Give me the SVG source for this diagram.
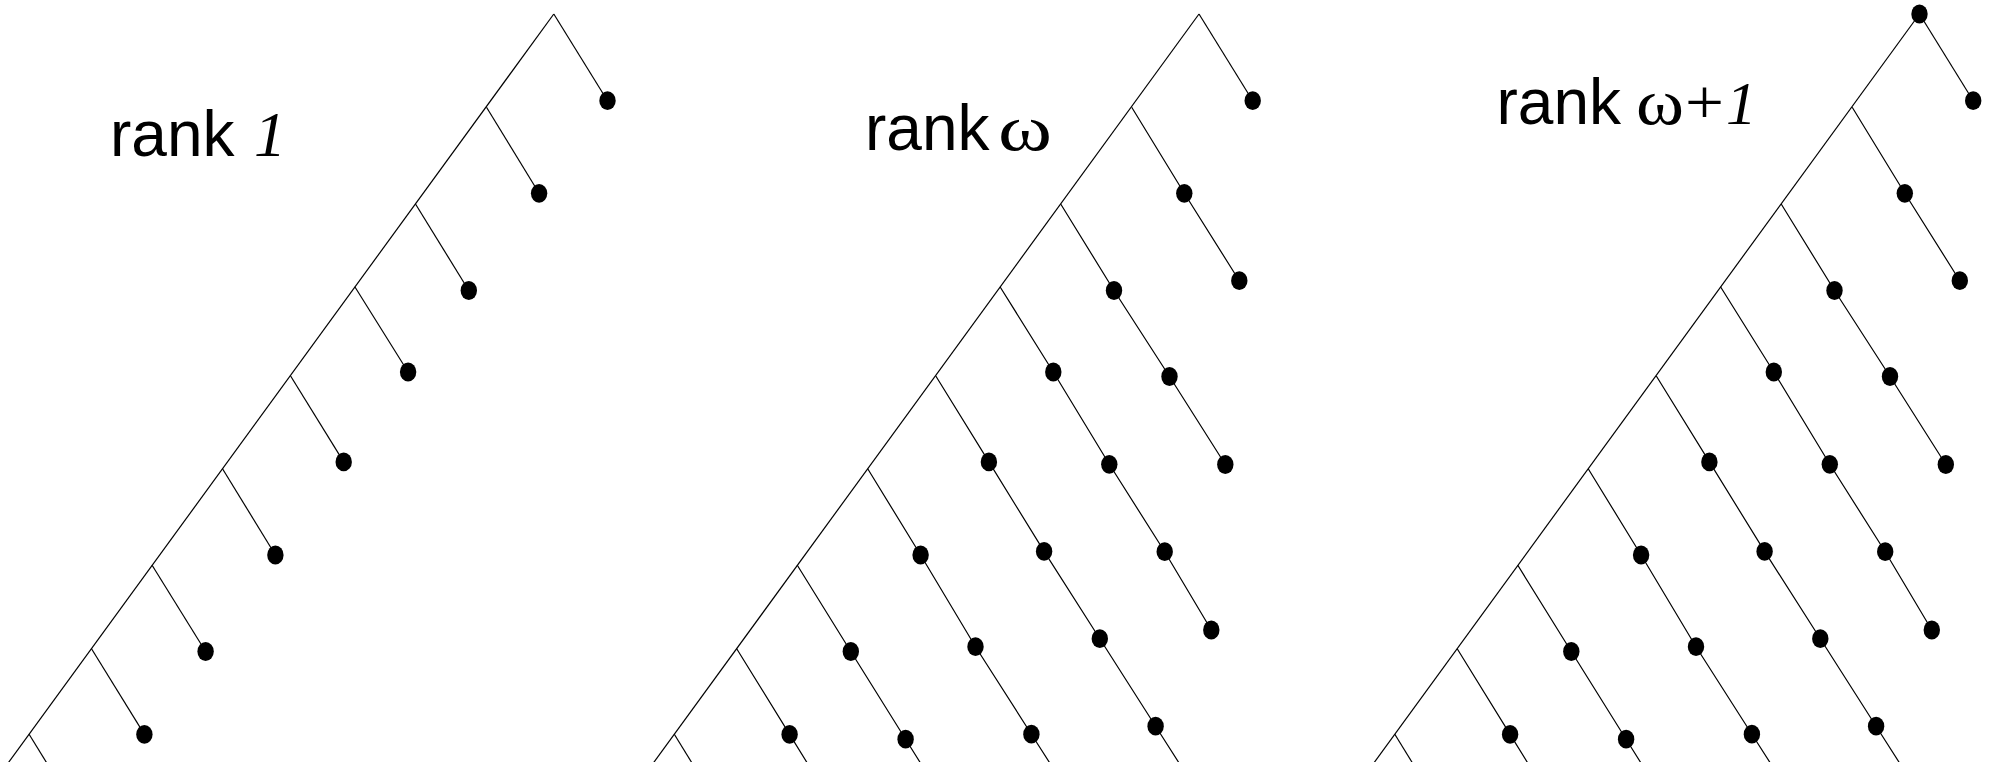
<svg xmlns="http://www.w3.org/2000/svg" width="1991" height="762" viewBox="0 0 1991 762">
<style>
.bg{fill:#ffffff}
.ln{fill:none;stroke:#000;stroke-width:1.2;stroke-linejoin:round}
.dot{fill:#000}
.lbl{font-family:"Liberation Sans",Arial,sans-serif;font-size:64px;fill:#000}
.m{font-family:"Liberation Serif","Times New Roman",serif}
.it{font-style:italic}
</style>
<rect class="bg" x="0" y="0" width="1991" height="762"/>
<g id="labels">
<text id="label-rank1" class="lbl" x="110" y="156">rank<tspan class="m it" x="254">1</tspan></text>
<text id="label-rankw" class="lbl" x="865" y="149.5">rank<tspan class="m" x="998" font-size="66" textLength="54" lengthAdjust="spacingAndGlyphs">ω</tspan></text>
<text id="label-rankw1" class="lbl" x="1496.5" y="124">rank<tspan class="m" x="1636" font-size="65" textLength="48" lengthAdjust="spacingAndGlyphs">ω</tspan><tspan class="m" x="1685" font-size="63" textLength="39" lengthAdjust="spacingAndGlyphs">+</tspan><tspan class="m it" x="1726" font-size="61">1</tspan></text>
</g>
<g id="connectors">
<g id="p1-edges">
<path class="ln" d="M553.8,14 L-18.8,800"/>
<path class="ln" d="M553.8,14 L607.5,100.7"/>
<path class="ln" d="M486.5,107.3 L539.1,193.3"/>
<path class="ln" d="M415.5,204 L468.8,290.5"/>
<path class="ln" d="M354.8,286.7 L408.1,372"/>
<path class="ln" d="M290.6,376 L343.7,461.9"/>
<path class="ln" d="M222.5,468.7 L275.4,555"/>
<path class="ln" d="M152.1,565.3 L205.6,651.5"/>
<path class="ln" d="M91.5,648.7 L144.4,734.4"/>
<path class="ln" d="M29.1,734.3 L82.1,820.3"/>
</g>
<g id="p2-edges">
<path class="ln" d="M1199,14 L626.4,800"/>
<path class="ln" d="M1199,14 L1252.7,100.7"/>
<path class="ln" d="M1131.7,107.3 L1184.3,193.3 L1239.3,280.7"/>
<path class="ln" d="M1060.7,204 L1114,290.5 L1169.5,376.5 L1225.3,464.5"/>
<path class="ln" d="M1000,286.7 L1053.3,372 L1109.3,464.3 L1164.7,551.7 L1211.3,630"/>
<path class="ln" d="M935.8,376 L988.9,461.9 L1044.1,551.4 L1099.8,638.7 L1155.6,726.2 L1211.4,813.7"/>
<path class="ln" d="M867.7,468.7 L920.6,555 L975.5,646.7 L1031.4,734.2 L1087.3,821.7"/>
<path class="ln" d="M797.3,565.3 L850.8,651.5 L905.6,739.2 L960.4,826.9"/>
<path class="ln" d="M736.7,648.7 L789.6,734.4 L842.5,820.1"/>
<path class="ln" d="M674.3,734.3 L727.3,820.3"/>
</g>
<g id="p3-edges">
<path class="ln" d="M1919.5,14 L1346.9,800"/>
<path class="ln" d="M1919.5,14 L1973.2,100.7"/>
<path class="ln" d="M1852.2,107.3 L1904.8,193.3 L1959.8,280.7"/>
<path class="ln" d="M1781.2,204 L1834.5,290.5 L1890,376.5 L1945.8,464.5"/>
<path class="ln" d="M1720.5,286.7 L1773.8,372 L1829.8,464.3 L1885.2,551.7 L1931.8,630"/>
<path class="ln" d="M1656.3,376 L1709.4,461.9 L1764.6,551.4 L1820.3,638.7 L1876.1,726.2 L1931.9,813.7"/>
<path class="ln" d="M1588.2,468.7 L1641.1,555 L1696,646.7 L1751.9,734.2 L1807.8,821.7"/>
<path class="ln" d="M1517.8,565.3 L1571.3,651.5 L1626.1,739.2 L1680.9,826.9"/>
<path class="ln" d="M1457.2,648.7 L1510.1,734.4 L1563,820.1"/>
<path class="ln" d="M1394.8,734.3 L1447.8,820.3"/>
</g>
</g>
<g id="nodes">
<g id="p1-n0"><ellipse class="dot" cx="607.5" cy="100.7" rx="8.2" ry="9.4"/></g>
<g id="p1-n1"><ellipse class="dot" cx="539.1" cy="193.3" rx="8.2" ry="9.4"/></g>
<g id="p1-n2"><ellipse class="dot" cx="468.8" cy="290.5" rx="8.2" ry="9.4"/></g>
<g id="p1-n3"><ellipse class="dot" cx="408.1" cy="372" rx="8.2" ry="9.4"/></g>
<g id="p1-n4"><ellipse class="dot" cx="343.7" cy="461.9" rx="8.2" ry="9.4"/></g>
<g id="p1-n5"><ellipse class="dot" cx="275.4" cy="555" rx="8.2" ry="9.4"/></g>
<g id="p1-n6"><ellipse class="dot" cx="205.6" cy="651.5" rx="8.2" ry="9.4"/></g>
<g id="p1-n7"><ellipse class="dot" cx="144.4" cy="734.4" rx="8.2" ry="9.4"/></g>

<g id="p2-n0-1"><ellipse class="dot" cx="1252.7" cy="100.7" rx="8.2" ry="9.4"/></g>
<g id="p2-n1-1"><ellipse class="dot" cx="1184.3" cy="193.3" rx="8.2" ry="9.4"/></g>
<g id="p2-n1-2"><ellipse class="dot" cx="1239.3" cy="280.7" rx="8.2" ry="9.4"/></g>
<g id="p2-n2-1"><ellipse class="dot" cx="1114" cy="290.5" rx="8.2" ry="9.4"/></g>
<g id="p2-n2-2"><ellipse class="dot" cx="1169.5" cy="376.5" rx="8.2" ry="9.4"/></g>
<g id="p2-n2-3"><ellipse class="dot" cx="1225.3" cy="464.5" rx="8.2" ry="9.4"/></g>
<g id="p2-n3-1"><ellipse class="dot" cx="1053.3" cy="372" rx="8.2" ry="9.4"/></g>
<g id="p2-n3-2"><ellipse class="dot" cx="1109.3" cy="464.3" rx="8.2" ry="9.4"/></g>
<g id="p2-n3-3"><ellipse class="dot" cx="1164.7" cy="551.7" rx="8.2" ry="9.4"/></g>
<g id="p2-n3-4"><ellipse class="dot" cx="1211.3" cy="630" rx="8.2" ry="9.4"/></g>
<g id="p2-n4-1"><ellipse class="dot" cx="988.9" cy="461.9" rx="8.2" ry="9.4"/></g>
<g id="p2-n4-2"><ellipse class="dot" cx="1044.1" cy="551.4" rx="8.2" ry="9.4"/></g>
<g id="p2-n4-3"><ellipse class="dot" cx="1099.8" cy="638.7" rx="8.2" ry="9.4"/></g>
<g id="p2-n4-4"><ellipse class="dot" cx="1155.6" cy="726.2" rx="8.2" ry="9.4"/></g>
<g id="p2-n5-1"><ellipse class="dot" cx="920.6" cy="555" rx="8.2" ry="9.4"/></g>
<g id="p2-n5-2"><ellipse class="dot" cx="975.5" cy="646.7" rx="8.2" ry="9.4"/></g>
<g id="p2-n5-3"><ellipse class="dot" cx="1031.4" cy="734.2" rx="8.2" ry="9.4"/></g>
<g id="p2-n6-1"><ellipse class="dot" cx="850.8" cy="651.5" rx="8.2" ry="9.4"/></g>
<g id="p2-n6-2"><ellipse class="dot" cx="905.6" cy="739.2" rx="8.2" ry="9.4"/></g>
<g id="p2-n7-1"><ellipse class="dot" cx="789.6" cy="734.4" rx="8.2" ry="9.4"/></g>

<g id="p3-root"><ellipse class="dot" cx="1919.5" cy="14" rx="8.2" ry="9.4"/></g>
<g id="p3-n0-1"><ellipse class="dot" cx="1973.2" cy="100.7" rx="8.2" ry="9.4"/></g>
<g id="p3-n1-1"><ellipse class="dot" cx="1904.8" cy="193.3" rx="8.2" ry="9.4"/></g>
<g id="p3-n1-2"><ellipse class="dot" cx="1959.8" cy="280.7" rx="8.2" ry="9.4"/></g>
<g id="p3-n2-1"><ellipse class="dot" cx="1834.5" cy="290.5" rx="8.2" ry="9.4"/></g>
<g id="p3-n2-2"><ellipse class="dot" cx="1890" cy="376.5" rx="8.2" ry="9.4"/></g>
<g id="p3-n2-3"><ellipse class="dot" cx="1945.8" cy="464.5" rx="8.2" ry="9.4"/></g>
<g id="p3-n3-1"><ellipse class="dot" cx="1773.8" cy="372" rx="8.2" ry="9.4"/></g>
<g id="p3-n3-2"><ellipse class="dot" cx="1829.8" cy="464.3" rx="8.2" ry="9.4"/></g>
<g id="p3-n3-3"><ellipse class="dot" cx="1885.2" cy="551.7" rx="8.2" ry="9.4"/></g>
<g id="p3-n3-4"><ellipse class="dot" cx="1931.8" cy="630" rx="8.2" ry="9.4"/></g>
<g id="p3-n4-1"><ellipse class="dot" cx="1709.4" cy="461.9" rx="8.2" ry="9.4"/></g>
<g id="p3-n4-2"><ellipse class="dot" cx="1764.6" cy="551.4" rx="8.2" ry="9.4"/></g>
<g id="p3-n4-3"><ellipse class="dot" cx="1820.3" cy="638.7" rx="8.2" ry="9.4"/></g>
<g id="p3-n4-4"><ellipse class="dot" cx="1876.1" cy="726.2" rx="8.2" ry="9.4"/></g>
<g id="p3-n5-1"><ellipse class="dot" cx="1641.1" cy="555" rx="8.2" ry="9.4"/></g>
<g id="p3-n5-2"><ellipse class="dot" cx="1696" cy="646.7" rx="8.2" ry="9.4"/></g>
<g id="p3-n5-3"><ellipse class="dot" cx="1751.9" cy="734.2" rx="8.2" ry="9.4"/></g>
<g id="p3-n6-1"><ellipse class="dot" cx="1571.3" cy="651.5" rx="8.2" ry="9.4"/></g>
<g id="p3-n6-2"><ellipse class="dot" cx="1626.1" cy="739.2" rx="8.2" ry="9.4"/></g>
<g id="p3-n7-1"><ellipse class="dot" cx="1510.1" cy="734.4" rx="8.2" ry="9.4"/></g>
</g>
</svg>
